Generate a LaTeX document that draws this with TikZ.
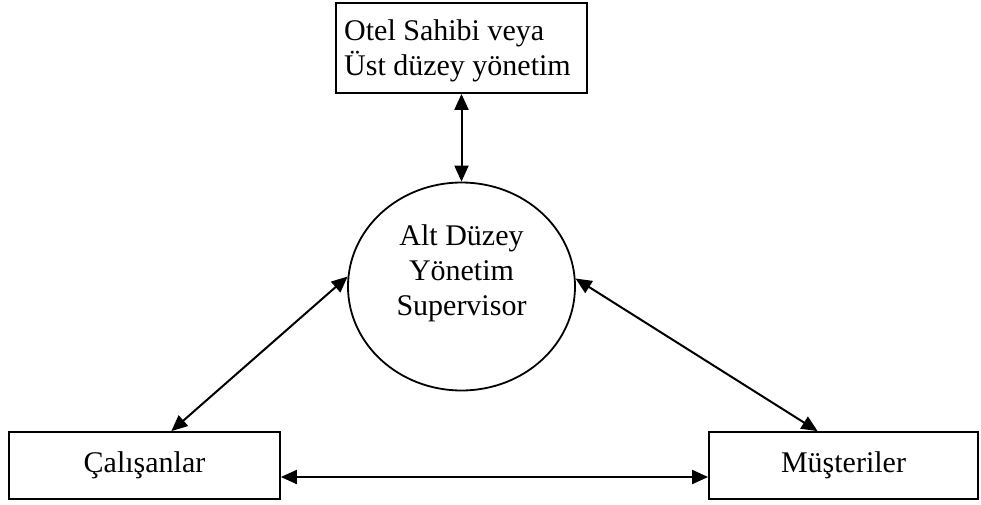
\documentclass[tikz,border=0pt]{standalone}
\usepackage{fontspec}
\setmainfont{Liberation Serif}
\usetikzlibrary{shapes.geometric,arrows.meta}
\begin{document}
\begin{tikzpicture}[x=0.5pt,y=-0.5pt,
  every node/.style={font=\fontsize{15}{17.5}\selectfont, line width=0.9pt},
  box/.style={draw, rectangle, inner sep=0pt},
  txt/.style={inner sep=0pt},
  link/.style={line width=1pt, {Triangle[length=8pt,width=7pt]}-{Triangle[length=8pt,width=7pt]}}
]
\useasboundingbox (0,0) rectangle (981,504);

% Owner / upper management
\node[box, minimum width=125.5pt, minimum height=45pt] (top) at (461.5,48) {};
\node[txt, align=left] (toptext) at (457.5,51) {Otel Sahibi veya\\Üst düzey yönetim};

% Lower management
\node[draw, ellipse, inner sep=0pt, minimum width=113.5pt, minimum height=104pt] (ell) at (461.5,286.5) {};
\node[txt, align=center] (elltext) at (461.5,273) {Alt Düzey\\Yönetim\\Supervisor};

% Employees and customers
\node[box, minimum width=135.5pt, minimum height=33.5pt] (cal) at (144.5,465.5) {Çalışanlar};
\node[box, minimum width=134.5pt, minimum height=33.5pt] (mus) at (843.5,465.5) {Müşteriler};

% Relations
\draw[link] (top.south) -- (ell.north);
\draw[link] (cal.52.7) -- (ell.175.3);
\draw[link] (mus.127.3) -- (ell.4.8);
\draw[link] ([yshift=-5.75pt]cal.east) -- ([yshift=-5.75pt]mus.west);
\end{tikzpicture}
\end{document}
